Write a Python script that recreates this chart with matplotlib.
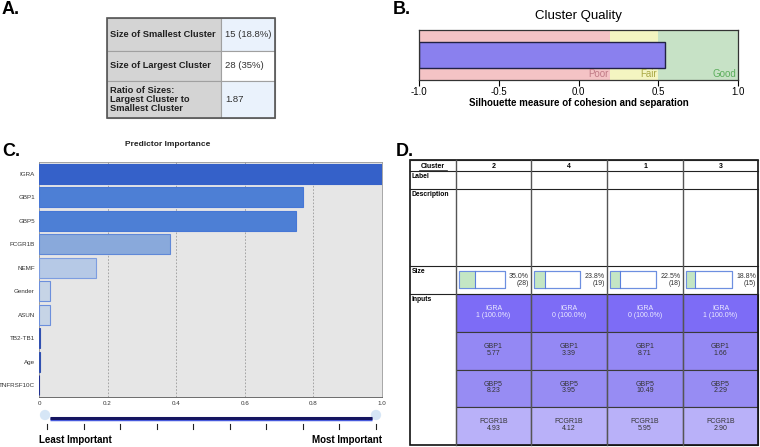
import numpy as np
import matplotlib as mpl
mpl.use('Agg')
from matplotlib import pyplot as plt
from matplotlib.patches import Rectangle

plt.rcParams['font.family'] = ['Liberation Sans', 'DejaVu Sans']

# ---- data ----
summaryLabels = ['Size of Smallest Cluster', 'Size of Largest Cluster',
                 'Ratio of Sizes:\nLargest Cluster to\nSmallest Cluster']
summaryValues = ['15 (18.8%)', '28 (35%)', '1.87']

silhouette = 0.54
qualityBands = [-1.0, 0.2, 0.5, 1.0]
qualityNames = ['Poor', 'Fair', 'Good']

predictors = ['IGRA', 'GBP1', 'GBP5', 'FCGR1B', 'NEMF', 'Gender', 'ASUN',
              'TB2-TB1', 'Age', 'TNFRSF10C']
importance = [1.0, 0.771, 0.749, 0.381, 0.165, 0.032, 0.031, 0.004, 0.003, 0.001]

clusters = ['2', '4', '1', '3']
sizePct = [35.0, 23.8, 22.5, 18.8]
sizeN = [28, 19, 18, 15]
igraMode = ['1', '0', '0', '1']
igraPct = [100.0, 100.0, 100.0, 100.0]
gbp1 = [5.77, 3.39, 8.71, 1.66]
gbp5 = [8.23, 3.95, 10.49, 2.29]
fcgr1b = [4.93, 4.12, 5.95, 2.90]

W, H = 760, 447
fig = plt.figure(figsize=(W / 100, H / 100), dpi=100)


def pxAxes(x0, y0, x1, y1):
    return fig.add_axes([x0 / W, 1 - y1 / H, (x1 - x0) / W, (y1 - y0) / H])


bg = fig.add_axes([0, 0, 1, 1])
bg.set_xlim(0, W)
bg.set_ylim(H, 0)
bg.axis('off')

# ---- panel letters ----
for lbl, x, y in [('A.', 2, 10), ('B.', 393, 10), ('C.', 2, 152), ('D.', 396, 152)]:
    bg.text(x, y, lbl, fontsize=13, fontweight='bold', va='center', ha='left')

# ---- A: summary table ----
rowsA = [18, 51, 81, 118]
colA = [107, 221, 275]
rightFill = ['#eaf2fc', 'white', '#eaf2fc']
for r in range(3):
    bg.add_patch(Rectangle((colA[0], rowsA[r]), colA[1] - colA[0], rowsA[r + 1] - rowsA[r],
                           facecolor='#d4d4d4', edgecolor='#a0a0a0', lw=0.8))
    bg.add_patch(Rectangle((colA[1], rowsA[r]), colA[2] - colA[1], rowsA[r + 1] - rowsA[r],
                           facecolor=rightFill[r], edgecolor='#a0a0a0', lw=0.8))
    ym = (rowsA[r] + rowsA[r + 1]) / 2
    bg.text(colA[0] + 3, ym, summaryLabels[r], fontsize=6.7, fontweight='bold',
            va='center', ha='left', linespacing=0.95, color='#202020')
    bg.text(colA[1] + 4, ym, summaryValues[r], fontsize=6.8, va='center', ha='left',
            color='#303030')
bg.add_patch(Rectangle((colA[0], rowsA[0]), colA[2] - colA[0], rowsA[-1] - rowsA[0],
                       facecolor='none', edgecolor='#555555', lw=1.2))

# ---- B: cluster quality ----
axB = pxAxes(419, 30, 738, 80)
bandColors = ['#f4c3c5', '#f4f5c1', '#c7e2c6']
textColors = ['#c07a86', '#a9a845', '#5cae5c']
for i in range(3):
    axB.axvspan(qualityBands[i], qualityBands[i + 1], color=bandColors[i], lw=0)
    axB.text(qualityBands[i + 1] - 0.01, -0.76, qualityNames[i], ha='right', va='center',
             fontsize=7, color=textColors[i])
axB.barh(0, silhouette - qualityBands[0], left=qualityBands[0], height=1.04,
         color='#8a80ee', edgecolor='#222244', lw=1.0)
axB.set_xlim(-1, 1)
axB.set_ylim(-1, 1)
axB.set_yticks([])
axB.set_xticks([-1, -0.5, 0, 0.5, 1.0])
axB.set_xticklabels(['-1.0', '-0.5', '0.0', '0.5', '1.0'], fontsize=7)
axB.tick_params(axis='x', length=4, width=0.8, pad=1)
for s in axB.spines.values():
    s.set_color('#333333')
    s.set_linewidth(0.9)
axB.set_xlabel('Silhouette measure of cohesion and separation', fontsize=7,
               fontweight='bold', labelpad=1)
bg.text(578, 16, 'Cluster Quality', fontsize=9.5, ha='center', va='center')

# ---- C: predictor importance ----
axC = pxAxes(39, 162, 382, 397)
axC.set_facecolor('#e6e6e6')
faceC = ['#3561c9', '#4d7fd5', '#4d7fd5', '#89a9db', '#b6c9e6', '#c6d4e6', '#c6d4e6',
         '#3050b0', '#3050b0', '#203090']
edgeC = ['#3561c9', '#4677d6', '#4677d6', '#5f88d8', '#7d9de0', '#6c8fdc', '#6c8fdc',
         '#3050b0', '#3050b0', '#203090']
yC = np.arange(len(predictors))
axC.barh(yC, importance, height=0.85, color=faceC, edgecolor=edgeC, lw=0.8, zorder=3)
axC.set_xlim(0, 1)
axC.set_ylim(len(predictors) - 0.5, -0.5)
axC.set_xticks([0, 0.2, 0.4, 0.6, 0.8, 1.0])
axC.set_xticklabels(['0', '0.2', '0.4', '0.6', '0.8', '1.0'], fontsize=4.5, color='#333333')
axC.set_yticks(yC)
axC.set_yticklabels(predictors, fontsize=4.5, color='#333333')
axC.tick_params(length=0, pad=3)
axC.grid(axis='x', ls=(0, (2, 2)), color='#999999', lw=0.6, zorder=1)
for s in axC.spines.values():
    s.set_color('#999999')
    s.set_linewidth(0.6)
axC.spines['bottom'].set_color('#555555')
bg.text(168, 145, 'Predictor Importance', fontsize=6, fontweight='bold', ha='center',
        va='center', color='#222222')

# slider under C
bg.plot([50, 372], [419, 419], color='#4a5de0', lw=2.5, solid_capstyle='butt')
bg.plot([50, 372], [417.5, 417.5], color='#151560', lw=2.2, solid_capstyle='butt')
bg.scatter([45, 376], [415, 415], s=55, color='#d6e6f6', zorder=1, edgecolors='none')
for tx in np.linspace(47, 376, 10):
    bg.plot([tx, tx], [424, 429], color='#222222', lw=0.8)
bg.text(39, 440, 'Least Important', fontsize=7, fontweight='bold', ha='left', va='center')
bg.text(382, 440, 'Most Important', fontsize=7, fontweight='bold', ha='right', va='center')

# ---- D: cluster profile table ----
colD = [410, 456, 531, 607, 683, 758]
rowD = [160, 171, 189, 266, 294, 332, 370, 407, 445]
inputRows = [
    ('IGRA', [f'{m} ({p:.1f}%)' for m, p in zip(igraMode, igraPct)], '#7d6cf6', '#ecebff'),
    ('GBP1', [f'{v:.2f}' for v in gbp1], '#9488f4', '#333333'),
    ('GBP5', [f'{v:.2f}' for v in gbp5], '#978cf3', '#333333'),
    ('FCGR1B', [f'{v:.2f}' for v in fcgr1b], '#b9b1f9', '#333333'),
]
bg.add_patch(Rectangle((colD[0], rowD[0]), colD[-1] - colD[0], rowD[-1] - rowD[0],
                       facecolor='white', edgecolor='none'))
for r, (name, vals, fc, tc) in enumerate(inputRows):
    y0, y1 = rowD[4 + r], rowD[5 + r]
    for c in range(4):
        x0, x1 = colD[c + 1], colD[c + 2]
        bg.add_patch(Rectangle((x0, y0), x1 - x0, y1 - y0, facecolor=fc,
                               edgecolor='#3a3a3a', lw=0.8))
        bg.text((x0 + x1) / 2, (y0 + y1) / 2 - 1, f'{name}\n{vals[c]}', fontsize=5,
                ha='center', va='center', color=tc, linespacing=1.0)
for y in rowD[:5]:
    bg.plot([colD[0], colD[-1]], [y, y], color='#222222', lw=0.8)
for x in colD[1:-1]:
    bg.plot([x, x], [rowD[0], rowD[-1]], color='#555555', lw=1.0)
bg.add_patch(Rectangle((colD[0], rowD[0]), colD[-1] - colD[0], rowD[-1] - rowD[0],
                       facecolor='none', edgecolor='#111111', lw=1.2))
bg.text((colD[0] + colD[1]) / 2, (rowD[0] + rowD[1]) / 2 + 0.5, 'Cluster', fontsize=5,
        fontweight='bold', ha='center', va='center')
bg.plot([colD[0] + 9, colD[1] - 9], [rowD[1] - 1, rowD[1] - 1], color='#111111', lw=0.5)
for lbl, y in [('Label', rowD[1]), ('Description', rowD[2]), ('Size', rowD[3]),
               ('Inputs', rowD[4])]:
    bg.text(colD[0] + 2, y + 2, lbl, fontsize=4.9, fontweight='bold', ha='left', va='top')
boxW = 46
for c in range(4):
    x0, x1 = colD[c + 1], colD[c + 2]
    bg.text((x0 + x1) / 2, (rowD[0] + rowD[1]) / 2 + 0.5, clusters[c], fontsize=5,
            fontweight='bold', ha='center', va='center')
    bx = x0 + 3
    bg.add_patch(Rectangle((bx, 271), boxW, 17, facecolor='white', edgecolor='#6d8fe0', lw=0.8))
    gw = boxW * sizePct[c] / 100
    bg.add_patch(Rectangle((bx, 271), gw, 17, facecolor='#c4e6c4', edgecolor='none'))
    bg.plot([bx + gw, bx + gw], [271, 288], color='#5a80dc', lw=0.8)
    bg.add_patch(Rectangle((bx, 271), boxW, 17, facecolor='none', edgecolor='#6d8fe0', lw=0.8))
    bg.text(x1 - 2, 280, f'{sizePct[c]:.1f}%\n({sizeN[c]})', fontsize=5, ha='right',
            va='center', color='#333333', linespacing=1.0)

fig.savefig('out.png', dpi=100)
